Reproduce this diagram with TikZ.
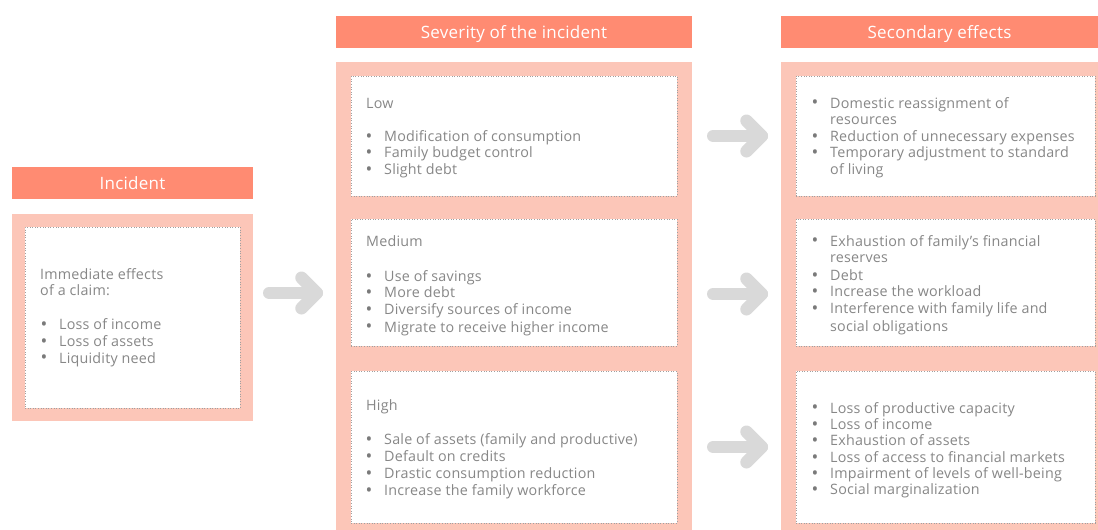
\documentclass[tikz,border=0pt]{standalone}
\usepackage{fontspec}
\setmainfont{Open Sans}[LetterSpace=1.5]
\definecolor{hdrc}{HTML}{FF8B72}
\definecolor{pinkbg}{HTML}{FCC6B8}
\definecolor{txtc}{HTML}{878787}
\definecolor{bulc}{HTML}{7A7A7A}
\definecolor{arrc}{HTML}{D9D9D9}
\definecolor{dotc}{HTML}{A0A0A0}
\newcommand\bulglyph{{\color{bulc}\fontsize{18}{18}\selectfont\raisebox{-0.9pt}{\textbullet}}}
\newcommand\bulA{\makebox[18pt][l]{\hspace*{-0.5pt}\bulglyph}}
\newcommand\indA{\hspace*{18pt}}
\newcommand\bulC{\makebox[19pt][l]{\hspace*{0.5pt}\bulglyph}}
\begin{document}
\begin{tikzpicture}[x=1pt,y=-1pt,
  hdrbox/.style={fill=hdrc, draw=none, text=white, font=\fontsize{17}{19}\selectfont, inner sep=0pt, text height=12.1pt, text depth=0pt},
  pinkbox/.style={fill=pinkbg, draw=none, inner sep=0pt},
  whitebox/.style={fill=white, draw=dotc, dotted, line width=0.6pt, inner sep=0pt},
  bodytext/.style={anchor=base west, inner sep=0pt, text=txtc, font=\fontsize{14.3}{16.6}\selectfont},
  bigarrow/.style={draw=arrc, line width=12.5pt, line cap=round, line join=round}
]
\useasboundingbox (0,0) rectangle (1098,530);

% headers
\node[hdrbox, minimum width=241pt, minimum height=32pt] (inchdr) at (132.5,183) {Incident};
\node[hdrbox, minimum width=356pt, minimum height=32pt] (sevhdr) at (514,32) {Severity of the incident};
\node[hdrbox, minimum width=317pt, minimum height=32pt] (sechdr) at (939.5,32) {Secondary effects};

% background panels
\node[pinkbox, minimum width=241pt, minimum height=207pt] (incbg) at (132.5,317.5) {};
\node[pinkbox, minimum width=356pt, minimum height=468pt] (sevbg) at (514,296) {};
\node[pinkbox, minimum width=317pt, minimum height=468pt] (secbg) at (939.5,296) {};

% inner white boxes
\node[whitebox, minimum width=215pt, minimum height=181pt] (incin) at (132.5,317.5) {};
\node[whitebox, minimum width=326pt, minimum height=120pt] (low) at (514,136) {};
\node[whitebox, minimum width=326pt, minimum height=127pt] (med) at (514,282.5) {};
\node[whitebox, minimum width=326pt, minimum height=152pt] (high) at (514,447) {};
\node[whitebox, minimum width=299pt, minimum height=120pt] (sec1) at (945.5,136) {};
\node[whitebox, minimum width=299pt, minimum height=127pt] (sec2) at (945.5,282.5) {};
\node[whitebox, minimum width=299pt, minimum height=152pt] (sec3) at (945.5,447) {};

% texts
\node[bodytext] (inctxt) at (40,279) {\begin{tabular}[t]{@{}l@{}}
Immediate effects\\
of a claim:\\[1pt]
\\
\bulC Loss of income\\
\bulC Loss of assets\\
\bulC Liquidity need
\end{tabular}};

\node[bodytext] (lowtxt) at (366,108) {\begin{tabular}[t]{@{}l@{}}
Low\\
\\
\bulA Modification of consumption\\
\bulA Family budget control\\
\bulA Slight debt
\end{tabular}};

\node[bodytext] (medtxt) at (366,246) {\begin{tabular}[t]{@{}l@{}}
Medium\\[2pt]
\\
\bulA Use of savings\\
\bulA More debt\\
\bulA Diversify sources of income\\[1pt]
\bulA Migrate to receive higher income
\end{tabular}};

\node[bodytext] (hightxt) at (366,410) {\begin{tabular}[t]{@{}l@{}}
High\\[1.5pt]
\\
\bulA Sale of assets (family and productive)\\
\bulA Default on credits\\[1pt]
\bulA Drastic consumption reduction\\
\bulA Increase the family workforce
\end{tabular}};

\node[bodytext] (sec1txt) at (812,108) {\begin{tabular}[t]{@{}l@{}}
\bulA Domestic reassignment of\\
\indA resources\\
\bulA Reduction of unnecessary expenses\\
\bulA Temporary adjustment to standard\\
\indA of living
\end{tabular}};

\node[bodytext] (sec2txt) at (812,246) {\begin{tabular}[t]{@{}l@{}}
\bulA Exhaustion of family's financial\\
\indA reserves\\[1pt]
\bulA Debt\\
\bulA Increase the workload\\
\bulA Interference with family life and\\[1.5pt]
\indA social obligations
\end{tabular}};

\node[bodytext] (sec3txt) at (812,413) {\begin{tabular}[t]{@{}l@{}}
\bulA Loss of productive capacity\\[-0.5pt]
\bulA Loss of income\\[-0.5pt]
\bulA Exhaustion of assets\\[0.5pt]
\bulA Loss of access to financial markets\\[-0.5pt]
\bulA Impairment of levels of well-being\\[-0.5pt]
\bulA Social marginalization
\end{tabular}};

% arrows
\coordinate (a1s) at (269.25,293);
\coordinate (a1e) at (316.75,293);
\coordinate (a2s) at (713.25,136);
\coordinate (a2e) at (761.75,136);
\coordinate (a3s) at (713.25,294);
\coordinate (a3e) at (761.75,294);
\coordinate (a4s) at (713.25,447);
\coordinate (a4e) at (761.75,447);
\foreach \s/\e in {a1s/a1e,a2s/a2e,a3s/a3e,a4s/a4e}{
  \draw[bigarrow] (\s) -- (\e);
  \draw[bigarrow] ([shift={(-15.25,-15.25)}]\e) -- (\e) -- ([shift={(-15.25,15.25)}]\e);
}
\end{tikzpicture}
\end{document}
